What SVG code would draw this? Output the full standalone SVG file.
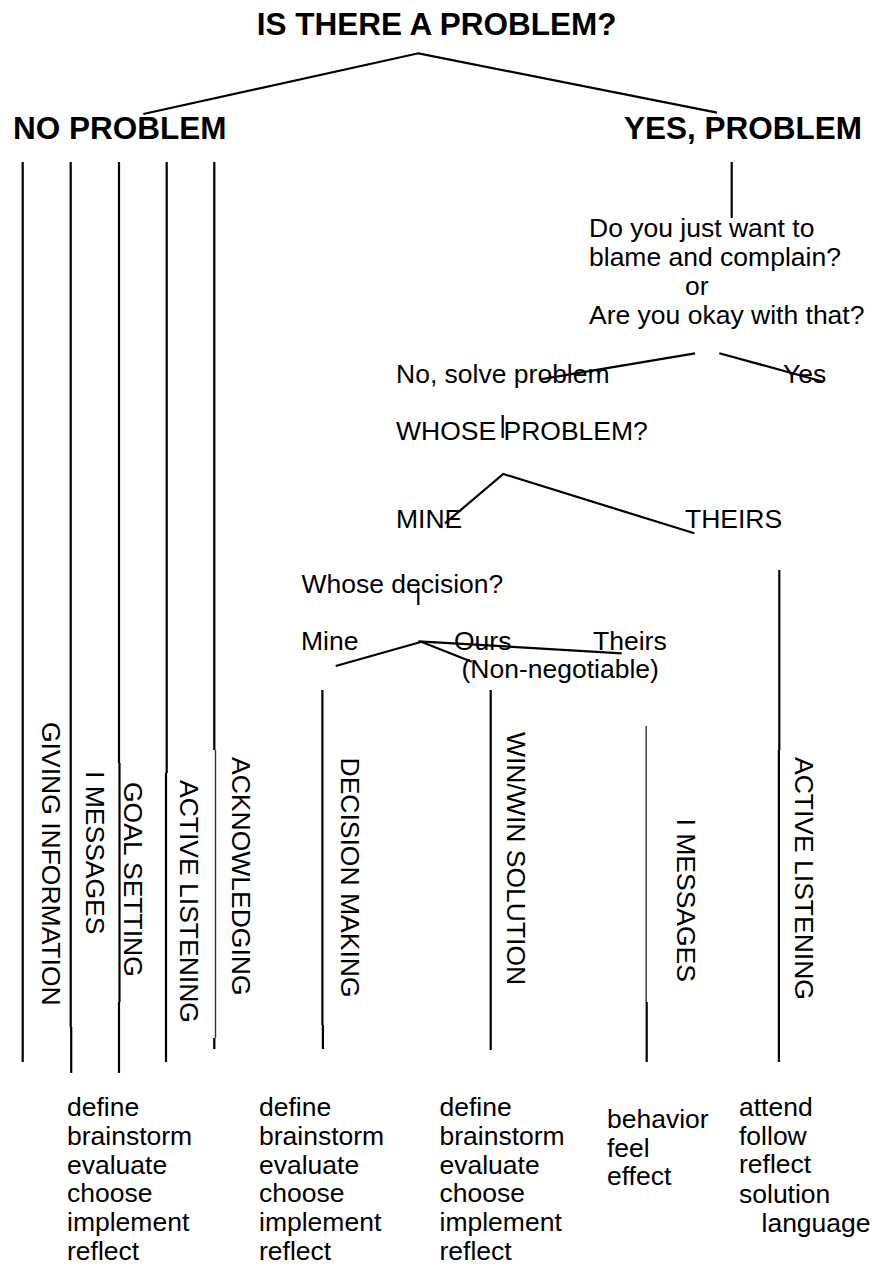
<svg xmlns="http://www.w3.org/2000/svg" width="875" height="1266" viewBox="0 0 875 1266">
<style>
text{font-family:"Liberation Sans",Arial,sans-serif;fill:#000}
.h{font-size:31.5px;font-weight:bold}
.t{font-size:26.5px}
.ln{stroke:#000;stroke-width:2.2;fill:none;stroke-linecap:butt}
.lt{stroke:#333;stroke-width:1.4;fill:none}
</style>
<rect width="875" height="1266" fill="#fff"/>
<g id="connectors">
<polyline class="ln" points="143.3,114 418.5,53.3 717,112.7"/>
<line class="ln" x1="22.7" y1="162" x2="22.7" y2="1062"/>
<line class="ln" x1="70.7" y1="162" x2="70.7" y2="1027"/>
<line class="ln" x1="71.2" y1="1027" x2="71.2" y2="1073"/>
<line class="ln" x1="119" y1="162" x2="119" y2="763"/>
<line class="ln" x1="119.5" y1="763" x2="119.5" y2="1002"/>
<line class="ln" x1="119" y1="1002" x2="119" y2="1073"/>
<line class="ln" x1="166.7" y1="162" x2="166.7" y2="773"/>
<line class="ln" x1="166" y1="773" x2="166" y2="1062"/>
<line class="ln" x1="214.3" y1="162" x2="214.3" y2="750"/>
<line class="lt" x1="215.5" y1="750" x2="215.5" y2="1038"/>
<line class="ln" x1="214.3" y1="1038" x2="214.3" y2="1049"/>
<line class="ln" x1="731.7" y1="162" x2="731.7" y2="218"/>
<line class="ln" x1="540" y1="379.3" x2="695" y2="353.3"/>
<line class="ln" x1="719.3" y1="353.3" x2="823.3" y2="381.7"/>
<line class="ln" x1="502.7" y1="415" x2="502.7" y2="438"/>
<polyline class="ln" points="445,523.3 503.3,474 694.3,533.3"/>
<line class="ln" x1="418.3" y1="588" x2="418.3" y2="605"/>
<line class="ln" x1="335.7" y1="666" x2="421.7" y2="641.7"/>
<line class="ln" x1="418.3" y1="641.3" x2="621.7" y2="653.3"/>
<line class="ln" x1="421.7" y1="642" x2="471.7" y2="661.7"/>
<line class="ln" x1="322.4" y1="690" x2="322.4" y2="1025"/>
<line class="ln" x1="322.9" y1="1025" x2="322.9" y2="1049"/>
<line class="ln" x1="490.7" y1="690" x2="490.7" y2="1050"/>
<line class="lt" x1="646.2" y1="726" x2="646.2" y2="1002"/>
<line class="ln" x1="646.7" y1="1002" x2="646.7" y2="1062"/>
<line class="ln" x1="779.3" y1="570" x2="779.3" y2="750"/>
<line class="ln" x1="778.9" y1="750" x2="778.9" y2="1062"/>
</g>
<g id="n-root"><text class="h" x="436.6" y="35" text-anchor="middle">IS THERE A PROBLEM?</text></g>
<g id="n-no-problem"><text class="h" x="13" y="139">NO PROBLEM</text></g>
<g id="n-yes-problem"><text class="h" x="624" y="139">YES, PROBLEM</text></g>
<g id="n-question">
<text class="t" x="589" y="236.5">Do you just want to</text>
<text class="t" x="589" y="265.5">blame and complain?</text>
<text class="t" x="685" y="294.5">or</text>
<text class="t" x="589" y="323.5">Are you okay with that?</text>
</g>
<g id="n-solve"><text class="t" x="396" y="383">No, solve problem</text></g>
<g id="n-yes"><text class="t" x="783" y="383">Yes</text></g>
<g id="n-whose-problem"><text class="t" x="396" y="440">WHOSE PROBLEM?</text></g>
<g id="n-mine"><text class="t" x="396" y="528">MINE</text></g>
<g id="n-theirs"><text class="t" x="685" y="528">THEIRS</text></g>
<g id="n-whose-decision"><text class="t" x="301.5" y="593">Whose decision?</text></g>
<g id="n-dec-mine"><text class="t" x="301" y="650">Mine</text></g>
<g id="n-dec-ours"><text class="t" x="454" y="650">Ours</text><text class="t" x="461.5" y="678">(Non-negotiable)</text></g>
<g id="n-dec-theirs"><text class="t" x="593" y="650">Theirs</text></g>
<g id="n-giving-info"><text class="t" transform="translate(41.7,722) rotate(90)">GIVING INFORMATION</text></g>
<g id="n-i-messages-1"><text class="t" transform="translate(86,771) rotate(90)">I MESSAGES</text></g>
<g id="n-goal-setting"><text class="t" transform="translate(124,782) rotate(90)">GOAL SETTING</text></g>
<g id="n-active-listening-1"><text class="t" transform="translate(180,780) rotate(90)">ACTIVE LISTENING</text></g>
<g id="n-acknowledging"><text class="t" transform="translate(232.3,757) rotate(90)">ACKNOWLEDGING</text></g>
<g id="n-decision-making"><text class="t" transform="translate(340.7,757.5) rotate(90)">DECISION MAKING</text></g>
<g id="n-winwin"><text class="t" transform="translate(507.3,732) rotate(90)">WIN/WIN SOLUTION</text></g>
<g id="n-i-messages-2"><text class="t" transform="translate(676.7,818.5) rotate(90)">I MESSAGES</text></g>
<g id="n-active-listening-2"><text class="t" transform="translate(795,757) rotate(90)">ACTIVE LISTENING</text></g>
<g id="n-list-1">
<text class="t" x="67" y="1116">define</text>
<text class="t" x="67" y="1144.8">brainstorm</text>
<text class="t" x="67" y="1173.6">evaluate</text>
<text class="t" x="67" y="1202.4">choose</text>
<text class="t" x="67" y="1231.2">implement</text>
<text class="t" x="67" y="1260">reflect</text>
</g>
<g id="n-list-2">
<text class="t" x="259" y="1116">define</text>
<text class="t" x="259" y="1144.8">brainstorm</text>
<text class="t" x="259" y="1173.6">evaluate</text>
<text class="t" x="259" y="1202.4">choose</text>
<text class="t" x="259" y="1231.2">implement</text>
<text class="t" x="259" y="1260">reflect</text>
</g>
<g id="n-list-3">
<text class="t" x="439.5" y="1116">define</text>
<text class="t" x="439.5" y="1144.8">brainstorm</text>
<text class="t" x="439.5" y="1173.6">evaluate</text>
<text class="t" x="439.5" y="1202.4">choose</text>
<text class="t" x="439.5" y="1231.2">implement</text>
<text class="t" x="439.5" y="1260">reflect</text>
</g>
<g id="n-list-4">
<text class="t" x="607" y="1128.3">behavior</text>
<text class="t" x="607" y="1156.7">feel</text>
<text class="t" x="607" y="1185">effect</text>
</g>
<g id="n-list-5">
<text class="t" x="739" y="1116">attend</text>
<text class="t" x="739" y="1145">follow</text>
<text class="t" x="739" y="1173.3">reflect</text>
<text class="t" x="739" y="1202.7">solution</text>
<text class="t" x="761.5" y="1231.7">language</text>
</g>
</svg>
